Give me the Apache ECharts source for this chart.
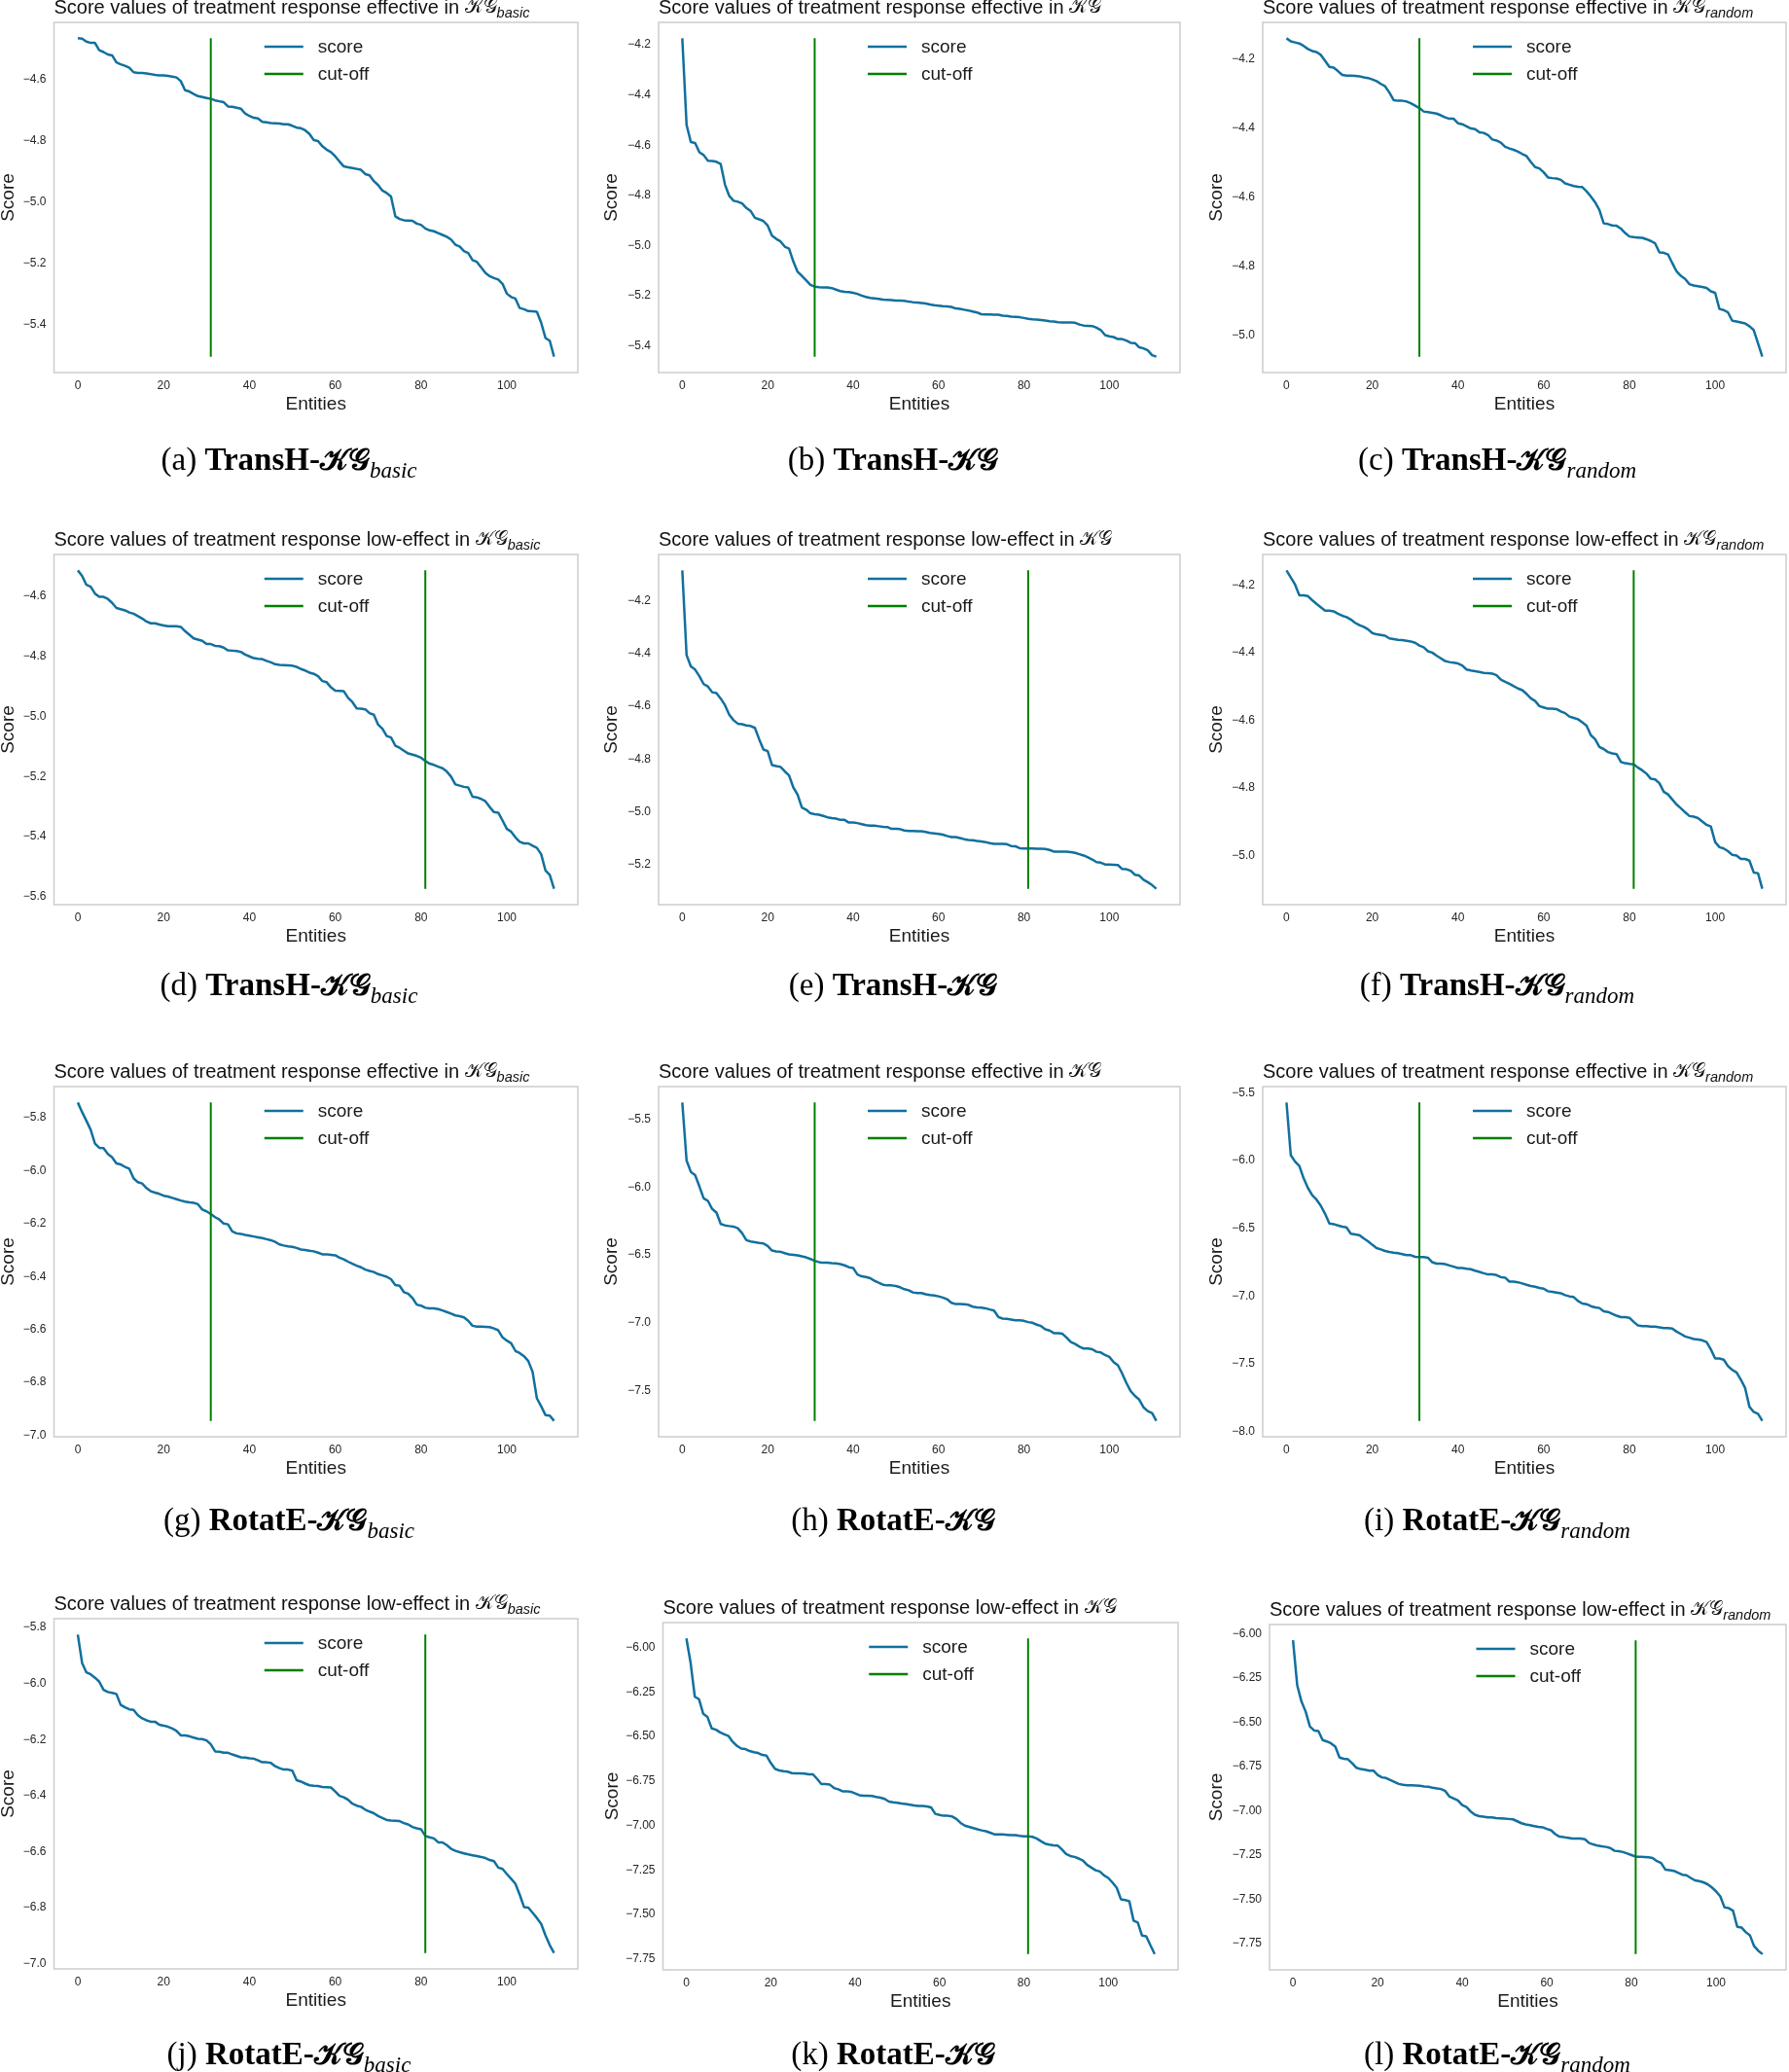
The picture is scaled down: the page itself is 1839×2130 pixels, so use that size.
<!DOCTYPE html>
<html><head><meta charset="utf-8">
<script src="https://cdn.jsdelivr.net/npm/echarts@6/dist/echarts.min.js"></script>
<style>html,body{margin:0;padding:0;background:#fff}#c{width:1839px;height:2130px}</style>
</head><body><div id="c"></div>
<script>
// ---------------- data ----------------
const xTicks = [0, 20, 40, 60, 80, 100];
const cutoffEffective = 31;
const cutoffLowEffect = 81;

const transhEffBasic = [-4.465,-4.466,-4.476,-4.48,-4.48,-4.504,-4.51,-4.518,-4.521,-4.544,
-4.55,-4.555,-4.561,-4.576,-4.578,-4.578,-4.58,-4.582,-4.585,-4.586,
-4.586,-4.588,-4.59,-4.593,-4.605,-4.635,-4.639,-4.647,-4.654,-4.657,
-4.66,-4.663,-4.668,-4.671,-4.674,-4.688,-4.689,-4.692,-4.695,-4.711,
-4.719,-4.725,-4.727,-4.738,-4.74,-4.742,-4.743,-4.744,-4.746,-4.746,
-4.751,-4.757,-4.759,-4.766,-4.778,-4.798,-4.801,-4.818,-4.829,-4.837,
-4.851,-4.868,-4.884,-4.887,-4.889,-4.892,-4.895,-4.909,-4.913,-4.932,
-4.945,-4.963,-4.971,-4.982,-5.047,-5.056,-5.06,-5.061,-5.062,-5.071,
-5.075,-5.087,-5.093,-5.096,-5.102,-5.108,-5.114,-5.123,-5.14,-5.146,
-5.161,-5.167,-5.19,-5.196,-5.214,-5.232,-5.243,-5.249,-5.254,-5.268,
-5.3,-5.311,-5.316,-5.347,-5.351,-5.357,-5.358,-5.359,-5.395,-5.445,
-5.454,-5.506];
const transhEffKG = [-4.174,-4.519,-4.587,-4.591,-4.628,-4.639,-4.662,-4.663,-4.666,-4.675,
-4.757,-4.802,-4.821,-4.825,-4.832,-4.85,-4.862,-4.889,-4.895,-4.902,
-4.92,-4.96,-4.973,-4.983,-5.004,-5.012,-5.063,-5.104,-5.12,-5.138,
-5.156,-5.163,-5.165,-5.166,-5.166,-5.169,-5.175,-5.181,-5.184,-5.185,
-5.188,-5.192,-5.199,-5.204,-5.208,-5.21,-5.212,-5.215,-5.216,-5.217,
-5.219,-5.219,-5.22,-5.223,-5.225,-5.226,-5.228,-5.23,-5.234,-5.237,
-5.239,-5.241,-5.242,-5.244,-5.25,-5.252,-5.255,-5.258,-5.262,-5.266,
-5.273,-5.274,-5.274,-5.275,-5.275,-5.279,-5.28,-5.283,-5.284,-5.285,
-5.288,-5.291,-5.293,-5.294,-5.296,-5.298,-5.301,-5.302,-5.305,-5.306,
-5.306,-5.306,-5.307,-5.314,-5.318,-5.319,-5.32,-5.327,-5.336,-5.356,
-5.361,-5.364,-5.372,-5.372,-5.378,-5.387,-5.388,-5.405,-5.409,-5.417,
-5.436,-5.442];
const transhEffRandom = [-4.141,-4.15,-4.153,-4.156,-4.163,-4.172,-4.178,-4.181,-4.189,-4.206,
-4.224,-4.226,-4.236,-4.247,-4.249,-4.249,-4.25,-4.251,-4.254,-4.256,
-4.26,-4.265,-4.273,-4.28,-4.298,-4.32,-4.322,-4.322,-4.324,-4.329,
-4.336,-4.343,-4.353,-4.355,-4.357,-4.359,-4.364,-4.37,-4.374,-4.374,
-4.387,-4.39,-4.396,-4.402,-4.404,-4.413,-4.415,-4.421,-4.434,-4.437,
-4.443,-4.455,-4.46,-4.464,-4.469,-4.476,-4.482,-4.499,-4.514,-4.518,
-4.529,-4.544,-4.546,-4.547,-4.551,-4.561,-4.565,-4.569,-4.571,-4.572,
-4.584,-4.599,-4.616,-4.638,-4.677,-4.679,-4.683,-4.684,-4.692,-4.705,
-4.715,-4.717,-4.718,-4.719,-4.723,-4.728,-4.735,-4.761,-4.762,-4.767,
-4.792,-4.816,-4.829,-4.838,-4.853,-4.857,-4.859,-4.861,-4.864,-4.874,
-4.878,-4.925,-4.928,-4.935,-4.959,-4.961,-4.964,-4.967,-4.975,-4.986,
-5.024,-5.063];
const transhLowBasic = [-4.514,-4.532,-4.562,-4.568,-4.591,-4.602,-4.602,-4.609,-4.622,-4.639,
-4.643,-4.647,-4.654,-4.658,-4.666,-4.674,-4.684,-4.69,-4.69,-4.694,
-4.697,-4.7,-4.7,-4.7,-4.702,-4.716,-4.728,-4.74,-4.744,-4.748,
-4.759,-4.759,-4.765,-4.766,-4.771,-4.78,-4.781,-4.782,-4.785,-4.794,
-4.8,-4.806,-4.808,-4.809,-4.815,-4.82,-4.826,-4.828,-4.829,-4.83,
-4.831,-4.835,-4.842,-4.847,-4.854,-4.858,-4.866,-4.882,-4.886,-4.903,
-4.914,-4.915,-4.916,-4.938,-4.952,-4.973,-4.974,-4.976,-4.989,-4.994,
-5.027,-5.041,-5.065,-5.07,-5.097,-5.104,-5.114,-5.123,-5.127,-5.131,
-5.137,-5.148,-5.157,-5.161,-5.167,-5.172,-5.183,-5.2,-5.226,-5.23,
-5.234,-5.236,-5.267,-5.269,-5.274,-5.282,-5.301,-5.318,-5.32,-5.346,
-5.374,-5.383,-5.402,-5.417,-5.422,-5.422,-5.43,-5.437,-5.458,-5.512,
-5.527,-5.573];
const transhLowKG = [-4.085,-4.406,-4.449,-4.461,-4.486,-4.516,-4.525,-4.547,-4.55,-4.571,
-4.596,-4.632,-4.653,-4.666,-4.668,-4.673,-4.675,-4.682,-4.725,-4.764,
-4.77,-4.823,-4.827,-4.83,-4.847,-4.862,-4.908,-4.935,-4.984,-4.992,
-5.006,-5.009,-5.011,-5.016,-5.021,-5.024,-5.026,-5.031,-5.031,-5.041,
-5.041,-5.043,-5.047,-5.051,-5.053,-5.053,-5.055,-5.057,-5.058,-5.065,
-5.065,-5.066,-5.071,-5.073,-5.073,-5.074,-5.074,-5.077,-5.08,-5.082,
-5.084,-5.087,-5.092,-5.096,-5.096,-5.1,-5.104,-5.107,-5.108,-5.111,
-5.113,-5.115,-5.119,-5.122,-5.122,-5.122,-5.123,-5.13,-5.131,-5.138,
-5.139,-5.139,-5.139,-5.14,-5.14,-5.141,-5.145,-5.151,-5.151,-5.151,
-5.151,-5.153,-5.156,-5.161,-5.166,-5.173,-5.181,-5.191,-5.193,-5.2,
-5.2,-5.201,-5.202,-5.217,-5.218,-5.224,-5.239,-5.242,-5.258,-5.267,
-5.278,-5.292];
const transhLowRandom = [-4.157,-4.178,-4.199,-4.231,-4.231,-4.233,-4.245,-4.256,-4.266,-4.276,
-4.276,-4.278,-4.285,-4.291,-4.295,-4.302,-4.312,-4.319,-4.324,-4.331,
-4.342,-4.346,-4.348,-4.35,-4.358,-4.36,-4.362,-4.363,-4.365,-4.367,
-4.371,-4.379,-4.384,-4.396,-4.4,-4.409,-4.417,-4.425,-4.428,-4.43,
-4.432,-4.438,-4.45,-4.453,-4.455,-4.457,-4.46,-4.461,-4.462,-4.467,
-4.48,-4.486,-4.492,-4.499,-4.506,-4.511,-4.522,-4.535,-4.543,-4.558,
-4.562,-4.566,-4.566,-4.567,-4.574,-4.579,-4.589,-4.593,-4.597,-4.606,
-4.616,-4.644,-4.656,-4.679,-4.685,-4.694,-4.698,-4.7,-4.723,-4.727,
-4.729,-4.73,-4.74,-4.748,-4.758,-4.773,-4.775,-4.786,-4.811,-4.819,
-4.834,-4.849,-4.86,-4.872,-4.883,-4.885,-4.889,-4.899,-4.909,-4.914,
-4.96,-4.975,-4.979,-4.987,-4.998,-5.0,-5.01,-5.01,-5.015,-5.05,
-5.052,-5.098];
const rotateEffBasic = [-5.743,-5.779,-5.812,-5.846,-5.898,-5.914,-5.915,-5.937,-5.95,-5.973,
-5.977,-5.986,-5.993,-6.029,-6.044,-6.049,-6.066,-6.078,-6.083,-6.088,
-6.095,-6.098,-6.103,-6.108,-6.113,-6.117,-6.12,-6.122,-6.127,-6.147,
-6.154,-6.164,-6.176,-6.185,-6.2,-6.203,-6.23,-6.237,-6.239,-6.243,
-6.246,-6.249,-6.252,-6.255,-6.259,-6.263,-6.269,-6.279,-6.283,-6.286,
-6.288,-6.292,-6.298,-6.3,-6.303,-6.305,-6.31,-6.316,-6.316,-6.318,
-6.32,-6.329,-6.335,-6.344,-6.352,-6.359,-6.365,-6.374,-6.379,-6.383,
-6.391,-6.396,-6.401,-6.41,-6.432,-6.435,-6.459,-6.465,-6.481,-6.506,
-6.51,-6.518,-6.52,-6.52,-6.523,-6.528,-6.534,-6.54,-6.547,-6.55,
-6.554,-6.567,-6.586,-6.589,-6.589,-6.59,-6.591,-6.596,-6.603,-6.63,
-6.642,-6.652,-6.681,-6.689,-6.701,-6.719,-6.76,-6.86,-6.89,-6.923,
-6.925,-6.945];
const rotateEffKG = [-5.374,-5.802,-5.886,-5.91,-5.993,-6.081,-6.1,-6.16,-6.186,-6.271,
-6.281,-6.286,-6.29,-6.302,-6.338,-6.39,-6.4,-6.405,-6.41,-6.414,
-6.433,-6.467,-6.474,-6.476,-6.486,-6.495,-6.498,-6.502,-6.51,-6.517,
-6.529,-6.543,-6.552,-6.557,-6.557,-6.56,-6.562,-6.567,-6.576,-6.59,
-6.595,-6.643,-6.657,-6.662,-6.671,-6.69,-6.705,-6.719,-6.724,-6.724,
-6.729,-6.738,-6.752,-6.76,-6.776,-6.781,-6.781,-6.79,-6.795,-6.798,
-6.805,-6.814,-6.826,-6.852,-6.862,-6.862,-6.864,-6.867,-6.881,-6.886,
-6.888,-6.893,-6.902,-6.91,-6.957,-6.969,-6.971,-6.976,-6.981,-6.981,
-6.986,-6.995,-7.0,-7.014,-7.024,-7.048,-7.057,-7.076,-7.076,-7.081,
-7.11,-7.143,-7.157,-7.176,-7.19,-7.19,-7.195,-7.214,-7.219,-7.238,
-7.252,-7.29,-7.314,-7.374,-7.445,-7.505,-7.54,-7.567,-7.624,-7.652,
-7.667,-7.724];
const rotateEffRandom = [-5.571,-5.96,-6.007,-6.04,-6.131,-6.202,-6.255,-6.288,-6.333,-6.393,
-6.464,-6.469,-6.479,-6.488,-6.493,-6.54,-6.545,-6.55,-6.574,-6.595,
-6.621,-6.645,-6.655,-6.667,-6.674,-6.679,-6.683,-6.69,-6.698,-6.698,
-6.71,-6.712,-6.712,-6.717,-6.75,-6.76,-6.76,-6.764,-6.774,-6.783,
-6.793,-6.793,-6.798,-6.802,-6.812,-6.821,-6.831,-6.84,-6.84,-6.845,
-6.86,-6.864,-6.893,-6.893,-6.898,-6.907,-6.917,-6.926,-6.931,-6.94,
-6.945,-6.964,-6.969,-6.974,-6.979,-6.993,-7.002,-7.007,-7.036,-7.055,
-7.06,-7.074,-7.083,-7.088,-7.112,-7.117,-7.131,-7.145,-7.155,-7.155,
-7.16,-7.19,-7.217,-7.221,-7.221,-7.226,-7.226,-7.231,-7.236,-7.236,
-7.24,-7.262,-7.279,-7.298,-7.307,-7.317,-7.321,-7.326,-7.34,-7.393,
-7.46,-7.46,-7.469,-7.517,-7.545,-7.564,-7.617,-7.679,-7.817,-7.855,
-7.869,-7.921];
const rotateLowBasic = [-5.825,-5.926,-5.96,-5.967,-5.979,-5.993,-6.022,-6.03,-6.033,-6.037,
-6.076,-6.085,-6.092,-6.094,-6.113,-6.124,-6.131,-6.136,-6.136,-6.147,
-6.15,-6.154,-6.16,-6.169,-6.185,-6.185,-6.188,-6.193,-6.197,-6.198,
-6.203,-6.217,-6.242,-6.243,-6.247,-6.247,-6.253,-6.258,-6.263,-6.264,
-6.267,-6.268,-6.274,-6.281,-6.281,-6.283,-6.295,-6.302,-6.307,-6.307,
-6.311,-6.345,-6.35,-6.357,-6.363,-6.365,-6.366,-6.369,-6.37,-6.371,
-6.385,-6.401,-6.406,-6.415,-6.429,-6.436,-6.44,-6.45,-6.457,-6.463,
-6.473,-6.48,-6.487,-6.489,-6.49,-6.491,-6.498,-6.503,-6.512,-6.517,
-6.52,-6.544,-6.549,-6.553,-6.567,-6.567,-6.577,-6.59,-6.597,-6.602,
-6.606,-6.61,-6.613,-6.616,-6.619,-6.623,-6.63,-6.634,-6.657,-6.662,
-6.68,-6.697,-6.715,-6.754,-6.798,-6.8,-6.818,-6.837,-6.858,-6.899,
-6.934,-6.962];
const rotateLowKG = [-5.949,-6.086,-6.277,-6.291,-6.373,-6.391,-6.455,-6.462,-6.477,-6.488,
-6.498,-6.531,-6.553,-6.568,-6.571,-6.582,-6.589,-6.593,-6.604,-6.608,
-6.649,-6.682,-6.691,-6.695,-6.698,-6.706,-6.708,-6.708,-6.709,-6.713,
-6.713,-6.739,-6.768,-6.768,-6.771,-6.79,-6.797,-6.808,-6.808,-6.811,
-6.82,-6.83,-6.833,-6.833,-6.835,-6.84,-6.844,-6.851,-6.866,-6.87,
-6.873,-6.877,-6.88,-6.884,-6.888,-6.891,-6.891,-6.893,-6.899,-6.935,
-6.941,-6.946,-6.946,-6.95,-6.964,-6.986,-7.001,-7.008,-7.015,-7.022,
-7.028,-7.033,-7.041,-7.05,-7.051,-7.051,-7.053,-7.055,-7.055,-7.059,
-7.062,-7.062,-7.064,-7.073,-7.088,-7.102,-7.108,-7.112,-7.113,-7.135,
-7.161,-7.172,-7.177,-7.186,-7.197,-7.222,-7.237,-7.252,-7.259,-7.281,
-7.295,-7.321,-7.35,-7.415,-7.419,-7.426,-7.535,-7.546,-7.619,-7.623,
-7.674,-7.723];
const rotateLowRandom = [-6.036,-6.291,-6.382,-6.44,-6.524,-6.546,-6.549,-6.6,-6.608,-6.619,
-6.637,-6.699,-6.706,-6.709,-6.731,-6.757,-6.764,-6.768,-6.773,-6.773,
-6.797,-6.811,-6.815,-6.826,-6.837,-6.848,-6.853,-6.855,-6.855,-6.857,
-6.859,-6.862,-6.864,-6.87,-6.873,-6.877,-6.888,-6.92,-6.931,-6.942,
-6.968,-6.979,-7.004,-7.022,-7.03,-7.033,-7.037,-7.037,-7.041,-7.042,
-7.044,-7.046,-7.048,-7.059,-7.07,-7.077,-7.081,-7.086,-7.091,-7.093,
-7.102,-7.11,-7.132,-7.146,-7.149,-7.153,-7.157,-7.157,-7.157,-7.161,
-7.182,-7.19,-7.197,-7.201,-7.204,-7.21,-7.226,-7.228,-7.233,-7.241,
-7.25,-7.259,-7.259,-7.261,-7.263,-7.266,-7.284,-7.295,-7.332,-7.335,
-7.339,-7.35,-7.361,-7.364,-7.379,-7.393,-7.397,-7.404,-7.415,-7.433,
-7.455,-7.484,-7.546,-7.55,-7.564,-7.655,-7.659,-7.685,-7.703,-7.765,
-7.791,-7.81];

const yTicksA = [-5.4,-5.2,-5.0,-4.8,-4.6];
const yTicksB = [-5.4,-5.2,-5.0,-4.8,-4.6,-4.4,-4.2];
const yTicksC = [-5.0,-4.8,-4.6,-4.4,-4.2];
const yTicksD = [-5.6,-5.4,-5.2,-5.0,-4.8,-4.6];
const yTicksE = [-5.2,-5.0,-4.8,-4.6,-4.4,-4.2];
const yTicksF = [-5.0,-4.8,-4.6,-4.4,-4.2];
const yTicksG = [-7.0,-6.8,-6.6,-6.4,-6.2,-6.0,-5.8];
const yTicksH = [-7.5,-7.0,-6.5,-6.0,-5.5];
const yTicksI = [-8.0,-7.5,-7.0,-6.5,-6.0,-5.5];
const yTicksJ = [-7.0,-6.8,-6.6,-6.4,-6.2,-6.0,-5.8];
const yTicksK = [-7.75,-7.5,-7.25,-7.0,-6.75,-6.5,-6.25,-6.0];
const yTicksL = [-7.75,-7.5,-7.25,-7.0,-6.75,-6.5,-6.25,-6.0];

// ---------------- layout ----------------
const SCORE_COLOR = '#11709e';
const CUT_COLOR = '#008000';
const SANS = '"Liberation Sans", Arial, sans-serif';
const SERIF = '"Liberation Serif", "Times New Roman", serif';
const KGFONT = '"DejaVu Sans", "Noto Sans", sans-serif';
const KG = '\u{1D4A6}\u{1D4A2}';

const panels = [
  {l:'a', m:'TransH', k:'effective', s:'basic',  d:transhEffBasic,  c:cutoffEffective, t:yTicksA, dec:1, gap:37.5, box:[55.5,23,594,383]},
  {l:'b', m:'TransH', k:'effective', s:'',       d:transhEffKG,     c:cutoffEffective, t:yTicksB, dec:1, gap:39,   box:[677,23,1213,383]},
  {l:'c', m:'TransH', k:'effective', s:'random', d:transhEffRandom, c:cutoffEffective, t:yTicksC, dec:1, gap:37.5, box:[1298,23,1836,383]},
  {l:'d', m:'TransH', k:'low-effect', s:'basic',  d:transhLowBasic,  c:cutoffLowEffect, t:yTicksD, dec:1, gap:37.5, box:[55.5,570,594,930]},
  {l:'e', m:'TransH', k:'low-effect', s:'',       d:transhLowKG,     c:cutoffLowEffect, t:yTicksE, dec:1, gap:39,   box:[677,570,1213,930]},
  {l:'f', m:'TransH', k:'low-effect', s:'random', d:transhLowRandom, c:cutoffLowEffect, t:yTicksF, dec:1, gap:37.5, box:[1298,570,1836,930]},
  {l:'g', m:'RotatE', k:'effective', s:'basic',  d:rotateEffBasic,  c:cutoffEffective, t:yTicksG, dec:1, gap:37.5, box:[55.5,1117,594,1477]},
  {l:'h', m:'RotatE', k:'effective', s:'',       d:rotateEffKG,     c:cutoffEffective, t:yTicksH, dec:1, gap:39,   box:[677,1117,1213,1477]},
  {l:'i', m:'RotatE', k:'effective', s:'random', d:rotateEffRandom, c:cutoffEffective, t:yTicksI, dec:1, gap:37.5, box:[1298,1117,1836,1477]},
  {l:'j', m:'RotatE', k:'low-effect', s:'basic',  d:rotateLowBasic,  c:cutoffLowEffect, t:yTicksJ, dec:1, gap:37.5, box:[55.5,1664,594,2024]},
  {l:'k', m:'RotatE', k:'low-effect', s:'',       d:rotateLowKG,     c:cutoffLowEffect, t:yTicksK, dec:2, gap:42.5, box:[681.5,1668,1211,2025]},
  {l:'l', m:'RotatE', k:'low-effect', s:'random', d:rotateLowRandom, c:cutoffLowEffect, t:yTicksL, dec:2, gap:44.5, box:[1305,1670,1836,2025]}
];
const capCenterX = [297, 918, 1539];
const capBaseY = [486, 1026, 1576, 2125];

const mctx = document.createElement('canvas').getContext('2d');
function measure(p){
  mctx.font = (p.style||'normal') + ' ' + (p.weight||'normal') + ' ' + p.size + 'px ' + p.family;
  return mctx.measureText(p.text).width;
}
function textRun(pieces, x0, baseY, align, color){
  const ws = pieces.map(measure);
  const total = ws.reduce((a,b)=>a+b,0);
  let x = align === 'center' ? x0 - total/2 : x0;
  const els = [];
  pieces.forEach((p,i)=>{
    els.push({type:'text', silent:true, x:x, y: baseY + (p.dy||0) - 0.345*p.size,
      style:{text:p.text, fontSize:p.size, fontFamily:p.family, fontWeight:p.weight||'normal',
             fontStyle:p.style||'normal', fill:color, align:'left', verticalAlign:'middle'}});
    x += ws[i];
  });
  return els;
}

const grids=[], xAxes=[], yAxes=[], series=[], graphics=[];
panels.forEach((p,i)=>{
  const [L,T,R,B] = p.box;
  const dmax = Math.max(...p.d), dmin = Math.min(...p.d), rng = dmax-dmin;
  const n = p.d.length;
  grids.push({left:L, top:T, width:R-L, height:B-T, show:true, borderWidth:1.5, borderColor:'#cdcdcd',
              backgroundColor:'#ffffff', containLabel:false, outerBoundsMode:'none'});
  xAxes.push({type:'value', gridIndex:i, min:-0.05*(n-1), max:(n-1)*1.05,
    axisLine:{show:false}, axisTick:{show:false}, splitLine:{show:false},
    axisLabel:{customValues:xTicks, margin:8, fontSize:12, fontFamily:SANS, color:'#262626'},
    name:'Entities', nameLocation:'middle', nameGap:23, nameMoveOverlap:false,
    nameTextStyle:{fontSize:19, fontFamily:SANS, color:'#1a1a1a'}});
  yAxes.push({type:'value', gridIndex:i, min:dmin-0.05*rng, max:dmax+0.05*rng,
    axisLine:{show:false}, axisTick:{show:false}, splitLine:{show:false},
    axisLabel:{customValues:p.t, margin:8, fontSize:12, fontFamily:SANS, color:'#262626',
      formatter:(v)=> (v<0?'\u2212':'') + Math.abs(v).toFixed(p.dec)},
    name:'Score', nameLocation:'middle', nameGap:p.gap, nameMoveOverlap:false,
    nameTextStyle:{fontSize:19, fontFamily:SANS, color:'#1a1a1a'}});
  series.push({type:'line', name:'score', xAxisIndex:i, yAxisIndex:i, showSymbol:false, silent:true,
    data:p.d.map((v,j)=>[j,v]), lineStyle:{color:SCORE_COLOR, width:2.5}, itemStyle:{color:SCORE_COLOR}});
  series.push({type:'line', name:'cut-off', xAxisIndex:i, yAxisIndex:i, showSymbol:false, silent:true,
    data:[[p.c,dmax],[p.c,dmin]], lineStyle:{color:CUT_COLOR, width:2}, itemStyle:{color:CUT_COLOR}});

  // title
  const tp = [{text:'Score values of treatment response '+p.k+' in ', size:20, family:SANS},
              {text:KG, size:20, family:KGFONT}];
  if (p.s) tp.push({text:p.s, size:14.5, family:SANS, style:'italic', dy:4});
  graphics.push(...textRun(tp, L, T-8, 'left', '#111'));

  // legend
  const cx = (L+R)/2;
  [['score',SCORE_COLOR,25],['cut-off',CUT_COLOR,53]].forEach(([lab,col,dy])=>{
    graphics.push({type:'line', silent:true, shape:{x1:cx-53, y1:T+dy, x2:cx-13, y2:T+dy},
      style:{stroke:col, lineWidth:2.5}});
    graphics.push({type:'text', silent:true, x:cx+2, y:T+dy+1,
      style:{text:lab, fontSize:19, fontFamily:SANS, fill:'#1a1a1a', align:'left', verticalAlign:'middle'}});
  });

  // caption
  const cp = [{text:'('+p.l+') ', size:33, family:SERIF},
              {text:p.m+'-', size:33, family:SERIF, weight:'bold'},
              {text:KG, size:31, family:KGFONT, weight:'bold'}];
  if (p.s) cp.push({text:p.s, size:23, family:SERIF, style:'italic', dy:7});
  graphics.push(...textRun(cp, capCenterX[i%3], capBaseY[Math.floor(i/3)], 'center', '#000'));
});

const chart = echarts.init(document.getElementById('c'), null, {renderer:'canvas', width:1839, height:2130});
chart.setOption({
  animation:false,
  backgroundColor:'#ffffff',
  grid:grids, xAxis:xAxes, yAxis:yAxes, series:series,
  graphic:{elements:graphics}
});
</script>
</body></html>
